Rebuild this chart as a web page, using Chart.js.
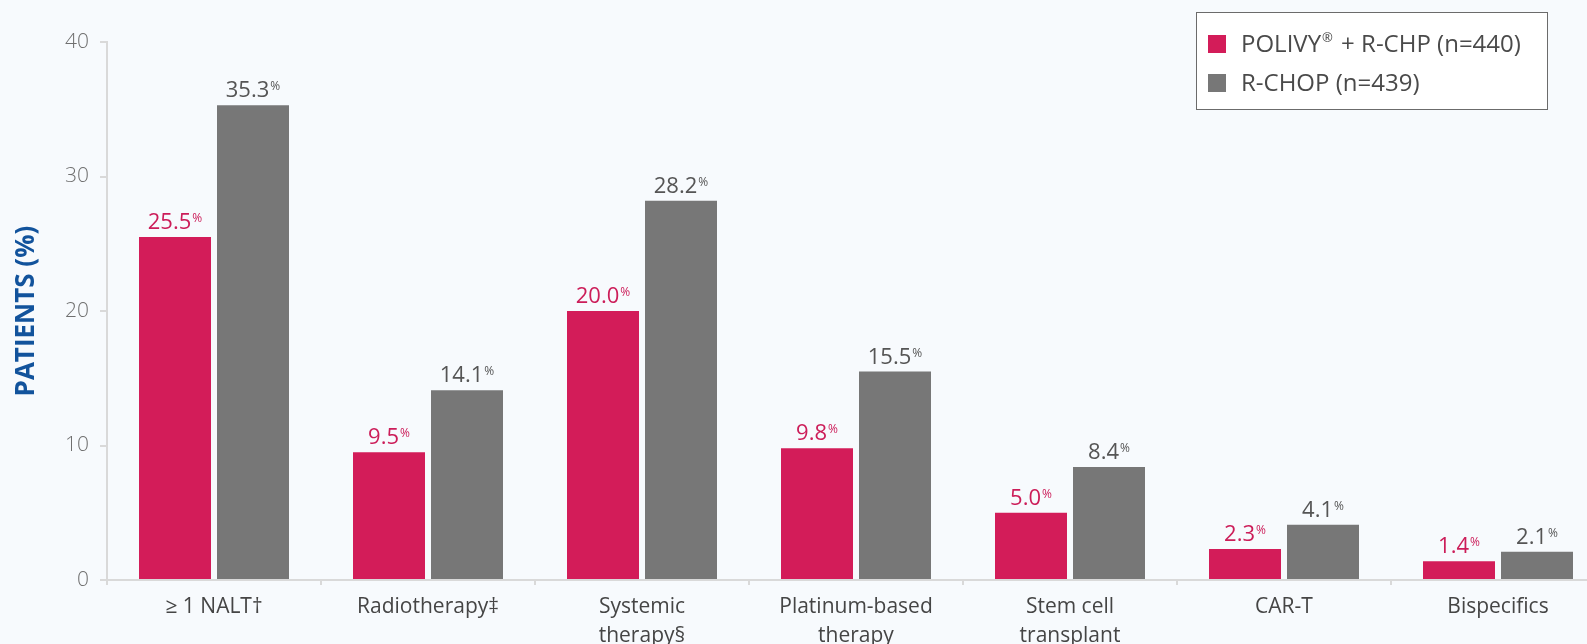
<!DOCTYPE html>
<html lang="en">
<head>
    <meta charset="UTF-8">
    <title>Subsequent Therapies</title>
    <script src="https://cdn.jsdelivr.net/npm/chart.js"></script>
    <style>
        html, body { margin: 0; padding: 0; background: #f7fafd; }
        #wrap { width: 1587px; height: 644px; overflow: hidden; position: relative; }
        #inner { width: 1620px; height: 644px; position: absolute; left: 0; top: 0; }
    </style>
</head>
<body>
    <div id="wrap"><div id="inner"><canvas id="ntChart"></canvas></div></div>

    <script>
        // categories and values
        const categories = [
            '≥ 1 NALT†',
            'Radiotherapy‡',
            ['Systemic', 'therapy§'],
            ['Platinum-based', 'therapy'],
            ['Stem cell', 'transplant'],
            'CAR-T',
            'Bispecifics'
        ];
        const polivyValues = [25.5, 9.5, 20.0, 9.8, 5.0, 2.3, 1.4];
        const rchopValues = [35.3, 14.1, 28.2, 15.5, 8.4, 4.1, 2.1];
        const seriesNames = ['POLIVY® + R-CHP (n=440)', 'R-CHOP (n=439)'];
        const yTicks = [0, 10, 20, 30, 40];

        const pink = '#d31c59';
        const grey = '#777777';
        const FONT = '"Open Sans", sans-serif';

        // value labels above bars, with a small raised %
        const valueLabels = {
            id: 'valueLabels',
            afterDatasetsDraw(chart) {
                const ctx = chart.ctx;
                chart.data.datasets.forEach((ds, i) => {
                    const meta = chart.getDatasetMeta(i);
                    meta.data.forEach((bar, j) => {
                        const txt = ds.data[j].toFixed(1);
                        ctx.save();
                        ctx.font = '22px ' + FONT;
                        const w1 = ctx.measureText(txt).width;
                        ctx.font = '12px ' + FONT;
                        const w2 = ctx.measureText('%').width;
                        const x0 = bar.x - (w1 + w2 + 1) / 2;
                        const y0 = bar.y - 8;
                        ctx.fillStyle = ds.labelColor;
                        ctx.textBaseline = 'alphabetic';
                        ctx.textAlign = 'left';
                        ctx.font = '22px ' + FONT;
                        ctx.fillText(txt, x0, y0);
                        ctx.font = '12px ' + FONT;
                        ctx.fillText('%', x0 + w1 + 1, y0 - 7);
                        ctx.restore();
                    });
                });
            }
        };

        // boxed legend in the top right corner
        const boxLegend = {
            id: 'boxLegend',
            afterDraw(chart) {
                const ctx = chart.ctx;
                const bx = 1196, by = 12, bw = 351, bh = 97;
                ctx.save();
                ctx.fillStyle = '#ffffff';
                ctx.fillRect(bx, by, bw, bh);
                ctx.strokeStyle = '#6b6b6b';
                ctx.lineWidth = 1;
                ctx.strokeRect(bx + 0.5, by + 0.5, bw, bh);
                chart.data.datasets.forEach((ds, i) => {
                    const cy = 44 + i * 39;
                    ctx.fillStyle = ds.backgroundColor;
                    ctx.fillRect(1208, cy - 9, 18, 18);
                    ctx.fillStyle = '#4a4a4a';
                    ctx.textBaseline = 'middle';
                    let x = 1241;
                    const parts = ds.label.split('®');
                    parts.forEach((p, k) => {
                        ctx.font = '24px ' + FONT;
                        ctx.fillText(p, x, cy + 1);
                        x += ctx.measureText(p).width;
                        if (k < parts.length - 1) {
                            ctx.font = '13px ' + FONT;
                            ctx.fillText('®', x + 1, cy - 6);
                            x += ctx.measureText('®').width + 3;
                        }
                    });
                });
                ctx.restore();
            }
        };

        const ctx = document.getElementById('ntChart').getContext('2d');
        const ntChart = new Chart(ctx, {
            type: 'bar',
            data: {
                labels: categories,
                datasets: [{
                    label: seriesNames[0],
                    data: polivyValues,
                    backgroundColor: pink,
                    labelColor: '#cc1d59',
                    categoryPercentage: 0.729,
                    barPercentage: 0.923
                }, {
                    label: seriesNames[1],
                    data: rchopValues,
                    backgroundColor: grey,
                    labelColor: '#555555',
                    categoryPercentage: 0.729,
                    barPercentage: 0.923
                }]
            },
            options: {
                responsive: true,
                maintainAspectRatio: false,
                animation: false,
                layout: { padding: { top: 42, right: 15, left: 0, bottom: 0 } },
                plugins: {
                    legend: { display: false },
                    tooltip: { enabled: false }
                },
                scales: {
                    x: {
                        afterFit(scale) { scale.height = 64; },
                        grid: {
                            offset: true,
                            drawOnChartArea: false,
                            drawTicks: true,
                            tickLength: 5,
                            color: '#d9d9d9',
                            lineWidth: 2
                        },
                        border: { color: '#d9d9d9', width: 2 },
                        ticks: {
                            color: '#454545',
                            padding: 8,
                            maxRotation: 0,
                            autoSkip: false,
                            font: { family: FONT, size: 21, lineHeight: 1.35 }
                        }
                    },
                    y: {
                        min: 0,
                        max: 40,
                        afterFit(scale) { scale.width = 107; },
                        afterBuildTicks(scale) {
                            scale.ticks = yTicks.map(v => ({ value: v }));
                        },
                        grid: {
                            drawOnChartArea: false,
                            drawTicks: true,
                            tickLength: 7,
                            color: '#d9d9d9',
                            lineWidth: 2
                        },
                        border: { color: '#d9d9d9', width: 2 },
                        ticks: {
                            color: '#6f6f6f',
                            padding: 11,
                            font: { family: FONT, size: 21, weight: '300' }
                        },
                        title: {
                            display: true,
                            text: 'PATIENTS (%)',
                            color: '#12539c',
                            padding: { top: 11 },
                            font: { family: FONT, size: 26, weight: 'bold' }
                        }
                    }
                }
            },
            plugins: [valueLabels, boxLegend]
        });
    </script>
</body>
</html>
